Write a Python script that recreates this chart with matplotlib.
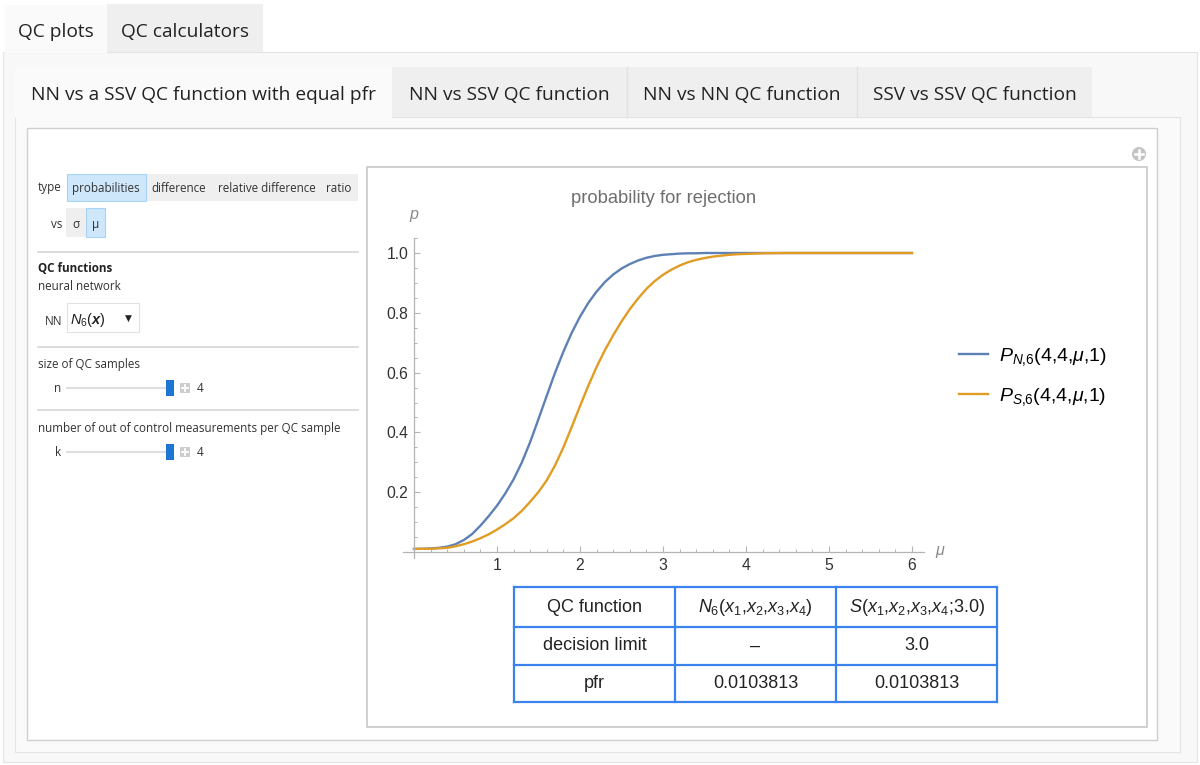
import matplotlib
matplotlib.use("Agg")
import matplotlib.pyplot as plt
from matplotlib.patches import Rectangle, Circle
from matplotlib.ticker import MultipleLocator

# Valores: probabilidad de rechazo frente a mu
mu = [0.0, 0.1, 0.2, 0.3, 0.4, 0.5, 0.6, 0.7, 0.8, 0.9, 1.0, 1.1, 1.2, 1.3, 1.4,
      1.5, 1.6, 1.7, 1.8, 1.9, 2.0, 2.1, 2.2, 2.3, 2.4, 2.5, 2.6, 2.7, 2.8, 2.9,
      3.0, 3.1, 3.2, 3.3, 3.4, 3.5, 3.6, 3.7, 3.8, 3.9, 4.0, 4.2, 4.5, 5.0, 5.5, 6.0]
p_nn = [0.0104, 0.0108, 0.012, 0.014, 0.018, 0.026, 0.040, 0.060, 0.088, 0.120,
        0.155, 0.196, 0.243, 0.300, 0.368, 0.445, 0.523, 0.600, 0.670, 0.733,
        0.787, 0.833, 0.871, 0.903, 0.928, 0.948, 0.963, 0.975, 0.984, 0.990,
        0.994, 0.996, 0.998, 0.999, 0.999, 1.0, 1.0, 1.0, 1.0, 1.0,
        1.0, 1.0, 1.0, 1.0, 1.0, 1.0]
p_ssv = [0.0104, 0.0106, 0.011, 0.012, 0.014, 0.019, 0.026, 0.035, 0.046, 0.059,
         0.075, 0.093, 0.113, 0.138, 0.168, 0.201, 0.240, 0.290, 0.350, 0.418,
         0.488, 0.556, 0.619, 0.675, 0.725, 0.771, 0.812, 0.848, 0.880, 0.906,
         0.927, 0.944, 0.958, 0.969, 0.977, 0.983, 0.988, 0.991, 0.994, 0.996,
         0.997, 0.999, 1.0, 1.0, 1.0, 1.0]

serie_labels = [r"$P_{N{,}6}(4{,}4{,}\mu{,}1)$", r"$P_{S{,}6}(4{,}4{,}\mu{,}1)$"]
x_ticks = [1, 2, 3, 4, 5, 6]
y_ticks = [0.2, 0.4, 0.6, 0.8, 1.0]

tabla = [["QC function", r"$N_6(x_1{,}x_2{,}x_3{,}x_4)$", r"$S(x_1{,}x_2{,}x_3{,}x_4$;3.0)"],
         ["decision limit", "–", "3.0"],
         ["pfr", "0.0103813", "0.0103813"]]

tabs_outer = ["QC plots", "QC calculators"]
tabs_inner = ["NN vs a SSV QC function with equal pfr", "NN vs SSV QC function",
              "NN vs NN QC function", "SSV vs SSV QC function"]

plt.rcParams["mathtext.fontset"] = "custom"
plt.rcParams["mathtext.rm"] = "Liberation Sans"
plt.rcParams["mathtext.it"] = "Liberation Sans:italic"
plt.rcParams["mathtext.bf"] = "Liberation Sans:bold:italic"

W, H = 1200, 765
fig = plt.figure(figsize=(W / 100, H / 100), dpi=100)
fig.patch.set_facecolor("white")

# Capa de fondo en coordenadas de píxel para dibujar la interfaz
bg = fig.add_axes([0, 0, 1, 1])
bg.set_xlim(0, W)
bg.set_ylim(H, 0)
bg.axis("off")

ui = "Open Sans"


def caja(x0, y0, x1, y1, fc, ec="none", lw=1.0, z=1):
    bg.add_patch(Rectangle((x0, y0), x1 - x0, y1 - y0, facecolor=fc,
                           edgecolor=ec, linewidth=lw, zorder=z))


def linea(x0, y0, x1, y1, c="#dcdcdc", lw=1.0, z=2):
    bg.plot([x0, x1], [y0, y1], color=c, linewidth=lw, zorder=z)


# Pestañas exteriores
caja(3, 52, 1197, 762, "#f8f8f8", "#e4e4e4", 0.8)
caja(5, 5, 107, 53, "#fafafa", "none", z=2)
caja(107, 4, 263, 52, "#efefef", "none", z=2)
bg.text(56, 32, tabs_outer[0], fontsize=13.8, family=ui, ha="center", va="center", color="#222222", zorder=3)
bg.text(185, 32, tabs_outer[1], fontsize=13.8, family=ui, ha="center", va="center", color="#222222", zorder=3)

# Pestañas interiores
caja(15, 117, 1180, 752, "#fafafa", "#e4e4e4", 0.8)
inner_x = [15, 392, 627, 857, 1092]
for i, t in enumerate(tabs_inner):
    fc = "#fafafa" if i == 0 else "#efefef"
    caja(inner_x[i], 67, inner_x[i + 1], 118 if i == 0 else 117, fc, "none", z=2)
    bg.text((inner_x[i] + inner_x[i + 1]) / 2, 95, t, fontsize=13.8, family=ui,
            ha="center", va="center", color="#222222", zorder=3)
for xx in inner_x[2:4]:
    linea(xx, 67, xx, 117, "#e2e2e2")

# Caja blanca principal y marco del gráfico
caja(27, 128, 1157, 740, "white", "#cfcfcf", 1.0, z=2)
caja(367, 167, 1147, 727, "white", "#c8c8c8", 1.2, z=3)
bg.add_patch(Circle((1139, 154), 7, facecolor="#c4c4c4", edgecolor="none", zorder=3))
linea(1135, 154, 1143, 154, "white", 1.8, z=4)
linea(1139, 150, 1139, 158, "white", 1.8, z=4)

# Controles de la izquierda
sm = 8.4
bg.text(38, 187, "type", fontsize=sm, family=ui, va="center", color="#333333", zorder=3)
caja(146, 174, 358, 201, "#efefef", z=3)
caja(67, 174, 146, 201, "#cfe7fb", "#a9d3f5", 0.8, z=3)
bg.text(106, 188, "probabilities", fontsize=sm, family=ui, ha="center", va="center", color="#333333", zorder=4)
bg.text(179, 188, "difference", fontsize=sm, family=ui, ha="center", va="center", color="#333333", zorder=4)
bg.text(267, 188, "relative difference", fontsize=sm, family=ui, ha="center", va="center", color="#333333", zorder=4)
bg.text(339, 188, "ratio", fontsize=sm, family=ui, ha="center", va="center", color="#333333", zorder=4)

bg.text(62, 224, "vs", fontsize=sm, family=ui, ha="right", va="center", color="#333333", zorder=3)
caja(66, 208, 86, 237, "#efefef", z=3)
caja(86, 208, 105, 237, "#cfe7fb", "#a9d3f5", 0.8, z=3)
bg.text(76, 224, "σ", fontsize=sm, family=ui, ha="center", va="center", color="#333333", zorder=4)
bg.text(95.5, 224, "μ", fontsize=sm, family=ui, ha="center", va="center", color="#333333", zorder=4)

linea(38, 252, 358, 252, "#d6d6d6", 1.2, z=3)
bg.text(38, 268, "QC functions", fontsize=sm, family=ui, weight="bold", va="center", color="#222222", zorder=3)
bg.text(38, 286, "neural network", fontsize=sm, family=ui, va="center", color="#333333", zorder=3)
bg.text(45, 321, "NN", fontsize=sm, family=ui, va="center", color="#333333", zorder=3)
caja(67, 303, 139, 332, "white", "#e2e2e2", 0.8, z=3)
bg.text(70, 320, r"$N_6(\mathbf{x})$", fontsize=10.5, va="center", color="#222222", zorder=4)
bg.text(128, 318, "▼", fontsize=6.5, family="DejaVu Sans", ha="center", va="center", color="#222222", zorder=4)

linea(38, 347, 358, 347, "#d6d6d6", 1.2, z=3)
bg.text(38, 364, "size of QC samples", fontsize=sm, family=ui, va="center", color="#333333", zorder=3)
linea(38, 410, 358, 410, "#d6d6d6", 1.2, z=3)
bg.text(38, 428, "number of out of control measurements per QC sample", fontsize=sm,
        family=ui, va="center", color="#333333", zorder=3)

for yy, letra in [(388, "n"), (452, "k")]:
    bg.text(58, yy, letra, fontsize=sm, family=ui, ha="center", va="center", color="#333333", zorder=3)
    linea(67, yy, 168, yy, "#dedede", 1.5, z=3)
    caja(166, yy - 8, 174, yy + 8, "#1f76d2", z=4)
    caja(180, yy - 5, 190, yy + 5, "#cdcdcd", z=4)
    linea(182, yy, 188, yy, "white", 1.3, z=5)
    linea(185, yy - 3, 185, yy + 3, "white", 1.3, z=5)
    bg.text(197, yy, "4", fontsize=sm, family=ui, va="center", color="#333333", zorder=4)

# Gráfico de probabilidades
x_lo, x_hi = -0.13, 6.14
y_lo, y_hi = -0.02, 1.05
px_x0, px_unit_x = 414, 83
px_y0, px_unit_y = 552, 299
left = px_x0 + x_lo * px_unit_x
right = px_x0 + x_hi * px_unit_x
top = px_y0 - y_hi * px_unit_y
bottom = px_y0 - y_lo * px_unit_y
ax = fig.add_axes([left / W, 1 - bottom / H, (right - left) / W, (bottom - top) / H])
ax.set_facecolor("none")
ax.set_zorder(5)

ax.plot(mu, p_nn, color="#5e81b5", linewidth=1.7, label=serie_labels[0])
ax.plot(mu, p_ssv, color="#e19c24", linewidth=1.7, label=serie_labels[1])

ax.set_xlim(x_lo, x_hi)
ax.set_ylim(y_lo, y_hi)
ax.spines["left"].set_position(("data", 0))
ax.spines["bottom"].set_position(("data", 0))
for s in ["top", "right"]:
    ax.spines[s].set_visible(False)
for s in ["left", "bottom"]:
    ax.spines[s].set_color("#b4b4b4")
    ax.spines[s].set_linewidth(0.9)

ax.set_xticks(x_ticks)
ax.set_yticks(y_ticks)
ax.set_yticklabels([f"{v:.1f}" for v in y_ticks])
ax.xaxis.set_minor_locator(MultipleLocator(0.2))
ax.yaxis.set_minor_locator(MultipleLocator(0.05))
ax.tick_params(which="major", direction="in", length=4.5, width=0.8, color="#b4b4b4",
               labelsize=11.3, labelcolor="#333333", pad=4)
ax.tick_params(which="minor", direction="in", length=2.5, width=0.7, color="#b4b4b4")
for lab in ax.get_xticklabels() + ax.get_yticklabels():
    lab.set_family("Liberation Sans")

bg.text(664, 198, "probability for rejection", fontsize=13.2, family="Liberation Sans",
        ha="center", va="center", color="#6e6e6e", zorder=6)
bg.text(414, 216, r"$p$", fontsize=11.5, ha="center", va="center", color="#8a8a8a", zorder=6)
bg.text(940, 552, r"$\mu$", fontsize=11.5, ha="center", va="center", color="#8a8a8a", zorder=6)

ax.legend(loc="center left", bbox_to_anchor=(959 / W, 1 - 377 / H), bbox_transform=fig.transFigure,
          frameon=False, fontsize=14, handlelength=1.5, handletextpad=0.55, labelspacing=0.95,
          borderpad=0, borderaxespad=0)

# Tabla con las funciones QC
col_x = [514, 675, 836, 997]
row_y = [587, 627, 665, 702]
caja(col_x[0], row_y[0], col_x[-1], row_y[-1], "white", z=6)
for xx in col_x:
    linea(xx, row_y[0], xx, row_y[-1], "#3b82ee", 1.6, z=7)
for yy in row_y:
    linea(col_x[0], yy, col_x[-1], yy, "#3b82ee", 1.6, z=7)
for i, fila in enumerate(tabla):
    for j, celda in enumerate(fila):
        bg.text((col_x[j] + col_x[j + 1]) / 2, (row_y[i] + row_y[i + 1]) / 2, celda,
                fontsize=13, family="Liberation Sans", ha="center", va="center",
                color="#222222", zorder=8)

fig.savefig("out.png", dpi=100)
